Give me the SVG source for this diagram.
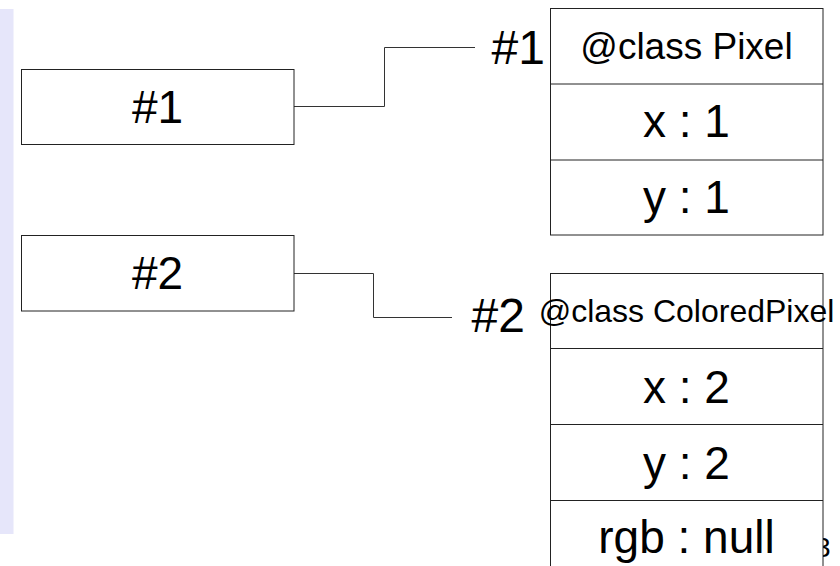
<svg xmlns="http://www.w3.org/2000/svg" width="840" height="566" viewBox="0 0 840 566">
<style>
.bg{fill:#ffffff}
.strip{fill:#e6e6fa}
.box{fill:#ffffff;stroke:#222222;stroke-width:1}
.div{stroke:#222222;stroke-width:1;fill:none}
.conn{stroke:#333333;stroke-width:1;fill:none}
text{font-family:"Liberation Sans",Arial,Helvetica,sans-serif;fill:#000000}
.big{font-size:46px;text-anchor:middle}
.lbl{font-size:48px;text-anchor:end}
.cls{font-size:37px;text-anchor:middle}
.cls2{font-size:32px;text-anchor:middle}
.pg{font-size:28px}
</style>
<rect class="bg" x="0" y="0" width="840" height="566"/>
<rect class="strip" x="0" y="9" width="13.5" height="525"/>
<text class="pg" x="815" y="556.5">3</text>
<g id="connectors">
<polyline class="conn" points="294,106.5 384.5,106.5 384.5,47.5 475,47.5"/>
<polyline class="conn" points="294,273.5 373.5,273.5 373.5,317.5 452,317.5"/>
</g>
<g id="ref1">
<rect class="box" x="21.5" y="69.5" width="272.5" height="75"/>
<text class="big" x="157.5" y="123">#1</text>
</g>
<g id="ref2">
<rect class="box" x="21.5" y="235.5" width="272.5" height="75.5"/>
<text class="big" x="157.5" y="289">#2</text>
</g>
<g id="obj1">
<text class="lbl" x="545" y="64">#1</text>
<rect class="box" x="550.5" y="8.5" width="272.5" height="226.5"/>
<line class="div" x1="550.5" y1="84" x2="823" y2="84"/>
<line class="div" x1="550.5" y1="160" x2="823" y2="160"/>
<text class="cls" x="686.5" y="59">@class Pixel</text>
<text class="big" x="686.5" y="137">x : 1</text>
<text class="big" x="686.5" y="213">y : 1</text>
</g>
<g id="obj2">
<text class="lbl" x="525" y="332">#2</text>
<rect class="box" x="550.5" y="273.5" width="272.5" height="310"/>
<line class="div" x1="550.5" y1="348.5" x2="823" y2="348.5"/>
<line class="div" x1="550.5" y1="424.5" x2="823" y2="424.5"/>
<line class="div" x1="550.5" y1="500.5" x2="823" y2="500.5"/>
<text class="cls2" x="686.5" y="322">@class ColoredPixel</text>
<text class="big" x="686.5" y="402.5">x : 2</text>
<text class="big" x="686.5" y="478.5">y : 2</text>
<text class="big" x="686.5" y="553">rgb : null</text>
</g>
</svg>
